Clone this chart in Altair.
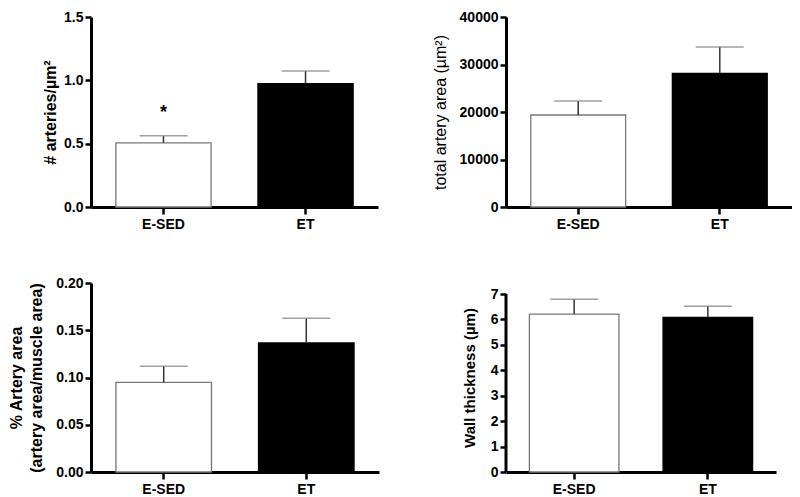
import altair as alt
import pandas as pd

categories = ["E-SED", "ET"]

arteries_mean = [0.507, 0.973]
arteries_sem = [0.055, 0.100]

total_area_mean = [19370, 28150]
total_area_sem = [2950, 5530]

pct_area_mean = [0.0949, 0.1365]
pct_area_sem = [0.0169, 0.0261]

wall_mean = [6.21, 6.08]
wall_sem = [0.58, 0.44]

star_group = ["E-SED"]
star_y = [0.70]

FONT = "Liberation Sans"


def make_df(means, sems):
    return pd.DataFrame({
        "group": categories,
        "value": means,
        "upper": [m + s for m, s in zip(means, sems)],
    })


def panel(means, sems, title, domain, ticks, fmt, width, height,
          title_weight="bold", title_size=16, title_padding=6,
          axis_top=None, star=None):
    df = make_df(means, sems)
    xaxis = alt.Axis(title=None, labelAngle=0, tickSize=7, labelPadding=3)
    xscale = alt.Scale(paddingInner=0.33, paddingOuter=0.175)
    xenc = alt.X("group:N", sort=categories, scale=xscale, axis=xaxis)
    yaxis = alt.Axis(values=ticks, format=fmt, title=title,
                     titleFontWeight=title_weight, titleFontSize=title_size,
                     titlePadding=title_padding, titleLineHeight=20,
                     labelOverlap=False,
                     domain=axis_top is None)
    yscale = alt.Scale(domain=domain, nice=False, zero=True)

    def Y(field):
        return alt.Y(field, scale=yscale, axis=yaxis, title=title)

    base = alt.Chart(df)
    bars = base.mark_bar(strokeWidth=1.3).encode(
        x=xenc,
        y=Y("value:Q"),
        fill=alt.Fill("group:N", scale=alt.Scale(domain=categories, range=["white", "black"]), legend=None),
        stroke=alt.Stroke("group:N", scale=alt.Scale(domain=categories, range=["#777777", "black"]), legend=None),
    )
    err = base.mark_rule(color="#333333", strokeWidth=1.5).encode(
        x=xenc,
        y=Y("value:Q"),
        y2="upper:Q",
    )
    cap = base.mark_tick(orient="horizontal", size=48, thickness=1.5, color="#777777").encode(
        x=xenc,
        y=Y("upper:Q"),
    )
    layers = [bars, err, cap]
    if axis_top is not None:
        line = alt.Chart(pd.DataFrame({"y0": [0], "y1": [axis_top]})).mark_rule(
            color="black", strokeWidth=3).encode(
            x=alt.value(0), y=Y("y0:Q"), y2="y1:Q")
        layers.append(line)
    if star is not None:
        sdf = pd.DataFrame({"group": star[0], "value": star[1], "t": ["*"] * len(star[0])})
        st = alt.Chart(sdf).mark_text(fontSize=18, fontWeight="bold", font=FONT,
                                      baseline="alphabetic", color="black").encode(
            x=xenc, y=Y("value:Q"), text="t:N")
        layers.append(st)
    return alt.layer(*layers).properties(width=width, height=height)


p1 = panel(arteries_mean, arteries_sem, "# arteries/µm²", [0, 1.5],
           [0, 0.5, 1.0, 1.5], ".1f", 287, 190, title_size=16, title_padding=5,
           star=(star_group, star_y))
p2 = panel(total_area_mean, total_area_sem, "total artery area  (µm²)", [0, 40000],
           [0, 10000, 20000, 30000, 40000], "d", 286, 190, title_weight="normal",
           title_size=16, title_padding=11)
p3 = panel(pct_area_mean, pct_area_sem, ["% Artery area", "(artery area/muscle area)"],
           [0, 0.2], [0, 0.05, 0.10, 0.15, 0.20], ".2f", 288, 189,
           title_size=16, title_padding=11)
p4 = panel(wall_mean, wall_sem, "Wall thickness  (µm)", [0, 7 * 189 / 178],
           [0, 1, 2, 3, 4, 5, 6, 7], "d", 270, 189, title_size=15,
           title_padding=13, axis_top=7)

chart = alt.concat(p1, p2, p3, p4, columns=2, bounds="flush",
                   spacing={"row": 76, "column": 127}).properties(
    padding={"left": 0, "top": 2, "right": 0, "bottom": 0},
    background="white",
).configure_view(stroke=None).configure_axis(
    grid=False,
    domainColor="black", domainWidth=3,
    tickColor="black", tickWidth=2.5, tickSize=6,
    labelFont=FONT, labelFontWeight="bold", labelFontSize=14, labelColor="black",
    labelPadding=2,
    titleFont=FONT, titleColor="black",
)

chart.save("out.html", embed_options={"renderer": "svg", "actions": False})
